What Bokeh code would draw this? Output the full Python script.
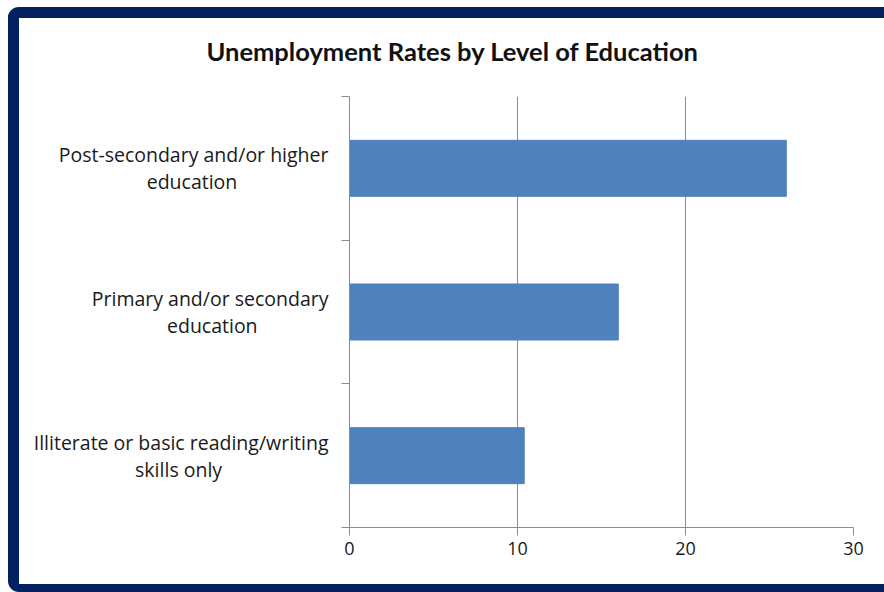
from bokeh.plotting import figure
from bokeh.layouts import column
from bokeh.models import FixedTicker, Range1d
from bokeh.embed import file_html
from bokeh.resources import INLINE

# ---- data ----
categories = [
    ["Illiterate or basic reading/writing", "skills only"],
    ["Primary and/or secondary", "education"],
    ["Post-secondary and/or higher", "education"],
]
rates = [10.4, 16.0, 26.0]
x_ticks = [0, 10, 20, 30]
title_text = "Unemployment Rates by Level of Education"

# second label lines are padded with no-break spaces so that the
# right-aligned axis labels look centred (as in the original)
pad_counts = [21, 14, 18]
NBSP = "\u00a0"
label_texts = [f"{a}\n{b}{NBSP * k}" for (a, b), k in zip(categories, pad_counts)]

# ---- derived positions (category slots) ----
n = len(categories)
y_centers = [i + 0.5 for i in range(n)]
y_bounds = list(range(n + 1))

TEXT = "#1a1a1a"
GRID = "#8c8c8c"
BAR = "#4F81BD"
NAVY = "#002060"
FONT = "Open Sans"

p = figure(
    width=865, height=566,
    output_backend="svg", toolbar_location=None,
    x_range=Range1d(x_ticks[0], x_ticks[-1]),
    y_range=Range1d(0, n),
    min_border_left=330, min_border_right=31,
    min_border_top=94, min_border_bottom=41,
)
p.styles = {"margin-top": "-16px"}
p.background_fill_color = "white"
p.border_fill_color = "white"
p.outline_line_color = None

p.hbar(y=y_centers, right=rates, left=0, height=0.39,
       fill_color=BAR, line_color=BAR)

# x axis
p.xaxis.ticker = FixedTicker(ticks=x_ticks)
p.xaxis.axis_line_color = GRID
p.xaxis.major_tick_line_color = GRID
p.xaxis.major_tick_in = 0
p.xaxis.major_tick_out = 8
p.xaxis.minor_tick_line_color = None
p.xaxis.major_label_text_font = FONT
p.xaxis.major_label_text_font_size = "18px"
p.xaxis.major_label_text_color = TEXT
p.xaxis.major_label_standoff = 6

# y axis: labels at slot centres, ticks at slot boundaries
p.yaxis.ticker = FixedTicker(ticks=y_centers, minor_ticks=y_bounds)
p.yaxis.major_label_overrides = {y: t for y, t in zip(y_centers, label_texts)}
p.yaxis.axis_line_color = GRID
p.yaxis.major_tick_line_color = None
p.yaxis.major_tick_in = 0
p.yaxis.major_tick_out = 0
p.yaxis.minor_tick_line_color = GRID
p.yaxis.minor_tick_in = 0
p.yaxis.minor_tick_out = 8
p.yaxis.major_label_text_font = FONT
p.yaxis.major_label_text_font_size = "19.5px"
p.yaxis.major_label_text_color = TEXT
p.yaxis.major_label_text_line_height = 1.0
p.yaxis.major_label_standoff = 13

# grid
p.xgrid.ticker = FixedTicker(ticks=x_ticks)
p.xgrid.grid_line_color = GRID
p.xgrid.grid_line_width = 1
p.ygrid.grid_line_color = None

# title
p.title.text = title_text
p.title.text_font = "Lato"
p.title.text_font_style = "bold"
p.title.text_font_size = "25.5px"
p.title.text_color = "#111111"
p.title.align = "left"
p.title.offset = -143
p.title.vertical_align = "bottom"
p.title.standoff = 62

# dark frame around the whole chart
layout = column(p, width=876, height=585, styles={
    "margin-left": "8px", "margin-top": "7px",
    "border-left": f"11px solid {NAVY}",
    "border-top": f"11px solid {NAVY}",
    "border-bottom": f"8px solid {NAVY}",
    "border-top-left-radius": "11px",
    "border-bottom-left-radius": "11px",
    "overflow": "hidden",
    "background": "white",
})

open("out.html", "w").write(file_html(layout, INLINE))
